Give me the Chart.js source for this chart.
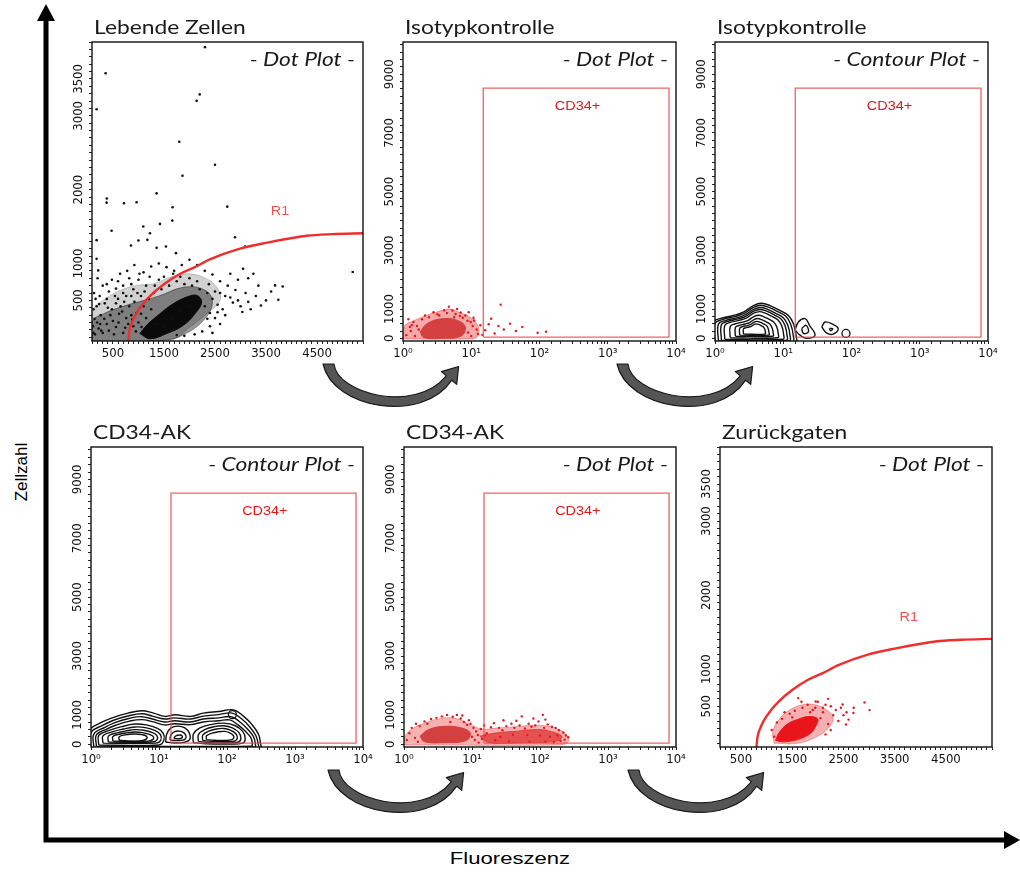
<!DOCTYPE html>
<html>
<head>
<meta charset="utf-8">
<script src="https://cdn.jsdelivr.net/npm/chart.js@4.4.1/dist/chart.umd.min.js"></script>
<style>
  body { margin: 0; width: 1020px; height: 872px; overflow: hidden; position: relative; background: #fff; }
  canvas { position: absolute; }
  svg { position: absolute; left: 0; top: 0; pointer-events: none; }
</style>
</head>
<body>
<svg width="1020" height="872" font-family="Liberation Sans, Arial, sans-serif">
  <defs>
    <path id="bend" d="M0,0 L11,0 C14,30 92,50 123.3,11.8 L118.3,7.6 L135.6,2.5 L133.7,20.4 L128.7,16.2 C100,60 10,45 0,0 Z"
          fill="#555" stroke="#1a1a1a" stroke-width="1.2" stroke-linejoin="round"/>
  </defs>
  <polyline points="46,18 46,840 1006,840" fill="none" stroke="#000" stroke-width="5"/>
  <polygon points="37,21 46,4 55,21" fill="#000"/>
  <polygon points="1004,831 1020,840 1004,849" fill="#000"/>
  <use href="#bend" x="323" y="364"/>
  <use href="#bend" x="617" y="364"/>
  <use href="#bend" x="328" y="770"/>
  <use href="#bend" x="628" y="770"/>
  <text transform="translate(27,472) rotate(-90)" text-anchor="middle" font-size="17">Zellzahl</text>
  <text transform="translate(510,864) scale(1.3,1)" text-anchor="middle" font-size="17">Fluoreszenz</text>
</svg>
<canvas id="live"></canvas>
<canvas id="isoDot"></canvas>
<canvas id="isoContour"></canvas>
<canvas id="akContour"></canvas>
<canvas id="akDot"></canvas>
<canvas id="backGate"></canvas>
<script>
// tick labels
const scatterTicksX = [500, 1500, 2500, 3500, 4500];
const scatterTicksY = [500, 1000, 2000, 3000, 3500];
const countTicksY = [0, 1000, 3000, 5000, 7000, 9000];
const logTicks = [1, 10, 100, 1000, 10000];
const logTickLabels = ['10⁰', '10¹', '10²', '10³', '10⁴'];

const panelTitles = ['Lebende Zellen', 'Isotypkontrolle', 'Isotypkontrolle', 'CD34-AK', 'CD34-AK', 'Zurückgaten'];
const plotKinds = ['- Dot Plot -', '- Dot Plot -', '- Contour Plot -', '- Contour Plot -', '- Dot Plot -', '- Dot Plot -'];

// gates
const r1Gate = [[800,-60],[820,77],[870,194],[950,313],[1094,455],[1250,574],[1500,719],[1800,855],[2075,940],[2400,1055],[2990,1200],[3500,1279],[4297,1375],[4800,1397],[5400,1410]];
const r1Label = [3775, 1650];
const cd34GateX = [15, 7900];
const cd34GateY = [40, 8530];
const cd34Label = [360, 7780];

// Lebende Zellen (FSC / SSC)
const liveCore = [[1029,50],[1160,162],[1422,320],[1683,455],[1944,545],[2141,568],[2239,478],[2108,320],[1879,162],[1552,50],[1225,-20]];
const liveInner = [[100,-60],[105,220],[350,330],[700,420],[1000,480],[1400,560],[1900,680],[2300,640],[2450,480],[2300,250],[1900,40],[1500,-40]];
const liveHalo = [[100,-60],[110,365],[310,500],[637,635],[964,703],[1291,725],[1618,815],[1944,860],[2271,815],[2533,680],[2598,500],[2337,320],[2010,140],[1618,-40]];
const liveDots = [
  [2304,3930],[357,3577],[180,3090],[2141,3203],[2200,3290],[1800,2649],[1863,2189],[2500,2338],[1356,1950],[376,1824],
  [380,1880],[716,1815],[964,1829],[1670,1761],[2741,1770],[474,1443],[180,1316],[1095,1500],[1422,1536],[1664,1581],
  [853,1243],[1000,1311],[1174,1320],[1226,1409],[1356,1212],[1539,1230],[1735,1140],[2892,1356],[3089,1230],[180,1063],
  [212,906],[3050,928],[3252,860],[3677,703],[3827,689],[5199,884],[3741,509],[3036,342],
  [150,40],[220,120],[300,60],[380,180],[140,250],[260,300],[420,90],[500,220],[560,140],[620,320],
  [700,60],[760,260],[820,420],[900,150],[960,330],[180,420],[340,460],[480,380],[600,520],[720,480],
  [860,560],[980,600],[240,560],[420,620],[560,660],[700,700],[860,720],[1000,780],[130,600],[300,700],
  [200,800],[480,780],[640,860],[780,900],[920,980],[1100,880],[1250,960],[1400,1000],[1550,950],[1700,900],
  [1850,980],[2000,1050],[2150,980],[2300,900],[2450,850],[2600,760],[2750,700],[2900,640],[3100,600],[3300,560],
  [3500,500],[2700,560],[2850,470],[3000,420],[3200,380],[2650,380],[2500,260],[2400,150],[2250,80],[2100,40],
  [1900,20],[1750,30],[1100,420],[1200,520],[1300,600],[1450,650],[1600,700],[1750,760],[1900,720],[2050,700],
  [2200,650],[2350,600],[2450,520],[2550,440],[2300,420],[1150,260],[1000,200],[950,80],[1050,320],[1250,380],
  [1350,180],[1500,150],[1650,250],[1800,350],[2000,420],[2400,330],[2500,620],[1400,780],[1150,700],[1050,560],
  [860,300],[800,180],[650,420],[540,560],[380,520],[250,180],[160,520],[110,150],[700,600],[900,650],
  [120,60],[190,200],[270,90],[330,250],[450,300],[520,40],[610,200],[680,350],[740,130],[880,240],
  [1060,140],[120,380],[230,450],[400,400],[560,460],[760,560],[920,480],[1120,620],[1320,700],[1500,820],
  [1680,860],[1820,820],[2000,800],[2150,760],[2380,720],[2600,600],[2800,540],[2950,500],[3150,480],[3400,430],
  [2700,300],[2600,180],[2450,60],[2350,250],[2550,340],[1220,820],[1020,860],[820,800],[600,760],[380,720],
  [3600,620],[3350,700],[3150,800],[2950,780],[2800,860]
];

// Isotypkontrolle, dot plot
const isoCore = [[1.78,221],[2.25,502],[3.7,670],[6.2,614],[8.2,390],[7.1,78],[3.6,0],[2.0,33]];
const isoHalo = [[1.02,-20],[1.05,420],[1.5,620],[2.3,800],[3.5,930],[4.8,1000],[6.5,900],[9,760],[11.5,560],[13,300],[12,40],[8,-20]];
const isoDots = [
  [1.12,110],[1.26,390],[1.42,560],[1.3,250],[1.5,80],[1.6,420],[1.9,650],[2.1,780],[2.8,890],[3.2,820],
  [4.0,960],[4.7,1080],[5.3,950],[5.9,830],[6.8,760],[7.5,700],[8.2,780],[9.2,890],[9.8,560],[10.5,420],
  [11,610],[12,300],[13.6,446],[12.5,150],[10,80],[9,200],[8.8,600],[2.4,720],[1.7,300],[1.35,450],
  [1.2,650],[3.4,780],[4.4,860],[5.6,720],[7,880],[6.2,1000],[10.8,700],[16,279],[19.6,670],[22,167],
  [27,1149],[37,502],[56,390],[94,190],[125,223],[30,300],[45,250],[18,480],[14.5,120],[25,420]
];

// Isotypkontrolle, contour plot
const isoRings = [
  [[0.9,-150],[0.9,520],[1.18,670],[1.86,780],[2.6,893],[3.65,1117],[4.8,1194],[6.4,1117],[9.0,949],[11.9,780],[14.1,502],[15.4,111],[15,-150]],
  [[1.0,-122],[1.0,501],[1.28,641],[1.96,743],[2.67,848],[3.66,1056],[4.72,1128],[6.17,1056],[8.47,900],[11.0,743],[12.85,484],[13.96,121],[13.6,-122]],
  [[1.12,-90],[1.12,480],[1.41,607],[2.07,700],[2.75,797],[3.67,987],[4.63,1052],[5.92,987],[7.9,844],[10.0,700],[11.6,464],[12.5,132],[12.2,-90]],
  [[1.24,-62],[1.24,461],[1.53,578],[2.18,663],[2.82,752],[3.68,926],[4.56,986],[5.70,926],[7.45,795],[9.27,663],[10.57,447],[11.3,142],[11.1,-62]],
  [[1.39,-30],[1.39,439],[1.67,544],[2.31,621],[2.91,700],[3.69,857],[4.48,911],[5.47,857],[6.95,739],[8.45,621],[9.5,426],[10.1,153],[9.9,-30]],
  [[1.67,22],[1.67,404],[1.95,489],[2.53,552],[3.06,617],[3.72,744],[4.35,788],[5.12,744],[6.21,648],[7.29,552],[8.02,394],[8.43,171],[8.32,22]],
  [[1.99,70],[1.99,372],[2.24,439],[2.75,489],[3.21,539],[3.73,640],[4.22,675],[4.81,640],[5.6,565],[6.35,489],[6.85,363],[7.13,187],[7.05,70]],
  [[2.30,110],[2.30,345],[2.52,397],[2.96,436],[3.33,475],[3.75,553],[4.12,580],[4.56,553],[5.14,495],[5.68,436],[6.01,338],[6.19,201],[6.15,110]],
  [[2.61,146],[2.61,320],[2.81,359],[3.16,388],[3.44,417],[3.76,475],[4.04,495],[4.36,475],[4.75,432],[5.12,388],[5.35,316],[5.47,214],[5.43,146]],
  [[14.9,278],[16.7,556],[20.9,670],[24.2,446],[29.2,111],[22.1,0],[17.6,111]],
  [[18.6,335],[21.6,446],[23.4,223],[19.7,167]],
  [[36.7,390],[41,558],[51,502],[64,335],[54,145],[43,190]],
  [[47.5,335],[53,335],[49.5,257]]
];
const isoCircles = [[83,168]];

// CD34-AK, contour plot
const akRings = [
  [[0.9,-150],[0.92,446],[1.37,726],[2.0,893],[3.5,1061],[5.6,1139],[8.3,1061],[12.2,949],[17.2,1005],[29,949],[45,1061],[75,1117],[125,1172],[176,949],[233,670],[292,335],[309,56],[309,-150]],
  [[1.0,-150],[1.0,400],[1.5,650],[2.1,810],[3.6,970],[5.6,1040],[8.0,960],[12,860],[17,900],[29,860],[45,960],[75,1010],[120,1060],[165,860],[215,600],[265,300],[285,50],[285,-150]],
  [[1.1,-100],[1.1,350],[1.6,580],[2.2,730],[3.6,880],[5.6,940],[8.0,860],[12,760],[17,800],[29,760],[45,860],[75,900],[115,940],[155,760],[200,520],[245,260],[260,40],[255,-100]],
  [[1.2,-60],[1.2,320],[1.7,520],[2.3,650],[3.7,790],[5.6,840],[8,770],[12,660],[17,700],[29,670],[45,760],[75,800],[110,830],[145,660],[185,450],[225,220],[235,30],[230,-60]],
  [[1.3,-20],[1.3,300],[1.9,480],[2.8,600],[4.4,690],[6.5,660],[9.5,540],[11.5,380],[11.8,150],[10,-20]],
  [[1.5,40],[1.5,290],[2.1,430],[3.0,520],[4.4,590],[6.3,570],[8.8,470],[10.5,330],[10.6,140],[9,40]],
  [[1.8,80],[1.8,280],[2.4,390],[3.2,450],[4.4,500],[6.0,480],[8.0,400],[9.3,300],[9.4,160],[8,80]],
  [[2.1,110],[2.1,270],[2.7,350],[3.4,390],[4.4,420],[5.7,400],[7.2,340],[8.2,270],[8.2,170],[7,110]],
  [[2.6,140],[2.6,260],[3.2,320],[4.4,350],[5.6,330],[6.5,280],[6.6,190],[5.8,130],[4.4,110],[3.2,120]],
  [[12.5,80],[13,350],[15,560],[19,620],[24,560],[28,380],[28,150],[22,60],[16,50]],
  [[14.5,150],[15,320],[17,430],[20,450],[23,400],[25,280],[24,170],[20,130],[16,130]],
  [[16.5,200],[17.5,280],[20,320],[22,280],[21.5,210],[19,190]],
  [[32,60],[32,350],[40,560],[60,680],[90,720],[130,640],[170,440],[185,200],[170,40],[100,10],[50,20]],
  [[38,100],[38,330],[47,500],[65,600],[90,630],[120,560],[150,400],[160,210],[148,80],[100,50],[55,60]],
  [[44,130],[44,310],[53,440],[70,520],[90,540],[112,480],[135,360],[142,220],[132,120],[100,90],[60,100]],
  [[50,160],[50,290],[60,380],[75,430],[92,440],[108,400],[122,320],[126,230],[118,160],[95,130],[65,140]]
];
const akCircles = [[120,1010]];

// CD34-AK, dot plot
const akCoreLeft = [[1.72,279],[2.3,502],[4.0,614],[7.0,558],[9.4,391],[8.3,134],[3.8,56],[2.0,89]];
const akCoreRight = [[13,279],[23,391],[45,446],[90,502],[140,446],[210,279],[178,112],[51,56],[18,56]];
const akHalo = [[1.02,-20],[1.05,300],[1.4,560],[2.2,760],[3.5,880],[5,900],[7,820],[10,650],[14,520],[25,560],[45,600],[80,650],[130,620],[200,480],[250,300],[260,80],[200,-20]];
const akDots = [
  [1.1,150],[1.2,380],[1.3,560],[1.5,700],[1.45,220],[1.7,620],[2.0,780],[2.5,860],[3.0,900],[3.6,950],
  [4.3,1000],[5.2,940],[6.0,1000],[6.8,880],[7.6,760],[8.5,660],[9.5,700],[10.5,560],[11.5,440],[12.2,320],
  [11,150],[10,260],[13.5,520],[15,640],[16.5,380],[19,580],[21,720],[25,560],[28,480],[32,620],
  [38,700],[42,560],[50,640],[54,950],[60,540],[68,700],[75,600],[85,640],[95,780],[110,1000],
  [115,560],[130,680],[150,600],[170,560],[190,480],[220,400],[240,300],[260,240],[230,160],[200,120],
  [160,70],[120,90],[70,90],[35,90],[22,140],[14,180],[12.5,60],[15.5,300],[26,250],[40,330],
  [65,320],[100,300],[140,260],[180,300],[9,820],[2.2,700],[1.6,90],[4.8,760],[7.2,980],[29,820],
  [45,800],[80,880],[120,840]
];

// Zurückgaten (FSC / SSC of CD34+)
const backCore = [[1175,40],[1250,150],[1406,260],[1600,320],[1800,360],[1997,330],[1950,220],[1866,140],[1650,60],[1471,30],[1300,20]];
const backHalo = [[1150,0],[1120,150],[1250,330],[1450,450],[1700,520],[1950,520],[2150,460],[2300,350],[2200,200],[1950,80],[1600,0]];
const backDots = [
  [1615,610],[1958,564],[2254,501],[2484,523],[2695,410],[2550,253],[2911,551],[3010,448],[2000,560],[2150,520],
  [2450,480],[2560,420],[2300,380],[2400,300],[2200,260],[2100,420],[1800,520],[1700,480],[1550,440],[1450,400],
  [1300,330],[1200,280],[1100,180],[1150,90],[1350,420],[1900,450],[2050,340],[2250,180],[2150,120],[1750,200],
  [1400,120],[1550,180],[1250,60],[2350,450],[2600,320],[1680,560],[1950,480],[2500,380],[1850,420],[1500,350],
  [2100,480],[2700,480],[2200,600]
];

const tickFont = { family: '"Liberation Sans Narrow", "DejaVu Sans Condensed", "Liberation Sans", sans-serif', size: 13 };
const red = 'rgb(232,22,26)';

const pts = a => a.map(([x, y]) => ({ x, y }));

function dots(data, color, r) {
  return { data: pts(data), showLine: false, pointRadius: r, pointBackgroundColor: color, pointBorderWidth: 0 };
}
function blob(data, color) {
  return { data: pts([...data, data[0]]), showLine: true, fill: 'shape', backgroundColor: color,
           borderColor: color, borderWidth: 1, pointRadius: 0, tension: 0.4, clip: 0 };
}
function ring(data) {
  return { data: pts([...data, data[0]]), showLine: true, fill: false, borderColor: '#111',
           borderWidth: 1.4, pointRadius: 0, tension: 0.4, clip: 0 };
}
function circles(data) {
  return { data: pts(data), showLine: false, pointRadius: 4, pointBackgroundColor: 'rgba(0,0,0,0)',
           pointBorderColor: '#111', pointBorderWidth: 1.3 };
}
function r1Line() {
  return { data: pts(r1Gate), showLine: true, fill: false, borderColor: 'rgb(240,45,45)', borderWidth: 2.4,
           pointRadius: 0, cubicInterpolationMode: 'monotone', clip: 0 };
}
function cd34Box() {
  const [x0, x1] = cd34GateX, [y0, y1] = cd34GateY;
  return { data: pts([[x0, y0], [x0, y1], [x1, y1], [x1, y0], [x0, y0]]), showLine: true, fill: false,
           borderColor: 'rgba(238,70,70,0.85)', borderWidth: 1.3, pointRadius: 0, tension: 0, clip: 0 };
}

function axis(type, min, max, labels, horizontal, step, names) {
  return {
    type, min, max,
    afterFit(s) { if (horizontal) s.height = 20; else s.width = 20; },
    afterBuildTicks(s) {
      if (!step) return;
      const t = [];
      for (let v = Math.ceil(min / step) * step; v <= max; v += step) t.push({ value: v });
      s.ticks = t;
    },
    grid: { drawOnChartArea: false, drawTicks: true, tickLength: 3, tickColor: '#222' },
    border: { display: false },
    ticks: {
      autoSkip: false,
      padding: horizontal ? 2 : -5,
      minRotation: horizontal ? 0 : 90, maxRotation: horizontal ? 0 : 90,
      crossAlign: horizontal ? 'near' : 'center',
      color: '#111', font: tickFont,
      callback: v => {
        const i = labels.indexOf(v);
        return i < 0 ? '' : (names ? names[i] : String(v));
      }
    }
  };
}
const fscAxis = () => axis('linear', 90, 5400, scatterTicksX, true, 100);
const sscAxis = () => axis('linear', -50, 4000, scatterTicksY, false, 100);
const flAxis = () => axis('logarithmic', 1, 10000, logTicks, true, 0, logTickLabels);
const countAxis = () => axis('linear', -90, 10100, countTicksY, false, 250);

function wideText(ctx, text, x, y, font, color, align) {
  ctx.save();
  ctx.translate(x, y);
  ctx.scale(1.2, 1);
  ctx.font = font;
  ctx.fillStyle = color;
  ctx.textAlign = align;
  ctx.textBaseline = 'alphabetic';
  ctx.fillText(text, 0, 0);
  ctx.restore();
}

function frame(title, kind, tag) {
  return {
    id: 'frame',
    afterDraw(chart) {
      const { ctx, chartArea: a, scales } = chart;
      ctx.save();
      ctx.strokeStyle = '#111';
      ctx.lineWidth = 1.4;
      ctx.strokeRect(a.left, a.top, a.right - a.left, a.bottom - a.top);
      wideText(ctx, title, a.left + 2, a.top - 8, '19px Lato', '#1a1a1a', 'left');
      wideText(ctx, kind, a.right - 8, a.top + 24, 'italic 19px Lato', '#1a1a1a', 'right');
      if (tag) {
        wideText(ctx, tag.text, scales.x.getPixelForValue(tag.at[0]), scales.y.getPixelForValue(tag.at[1]),
                 tag.font, tag.color, 'center');
      }
      ctx.restore();
    }
  };
}

function panel(id, box, xAxis, yAxis, datasets, n, tag) {
  const cv = document.getElementById(id);
  cv.width = box[2] - box[0] + 50;
  cv.height = box[3] - box[1] + 65;
  cv.style.left = (box[0] - 30) + 'px';
  cv.style.top = (box[1] - 40) + 'px';
  new Chart(cv, {
    type: 'line',
    data: { datasets },
    options: {
      responsive: false, animation: false, devicePixelRatio: 1, events: [],
      layout: { padding: { left: 10, top: 40, right: 20, bottom: 5 } },
      scales: { x: xAxis, y: yAxis },
      plugins: { legend: { display: false }, tooltip: { enabled: false } }
    },
    plugins: [frame(panelTitles[n], plotKinds[n], tag)]
  });
}

const r1Tag = { text: 'R1', at: r1Label, font: '12px "Liberation Sans", Arial, sans-serif', color: 'rgb(240,80,80)' };
const cd34Tag = { text: 'CD34+', at: cd34Label, font: '12px "Liberation Sans", Arial, sans-serif', color: 'rgb(235,20,20)' };

panel('live', [92, 42, 363, 341], fscAxis(), sscAxis(), [
  r1Line(),
  dots(liveDots, '#111', 1.3),
  blob(liveCore, '#0a0a0a'),
  blob(liveInner, 'rgba(0,0,0,0.4)'),
  blob(liveHalo, 'rgba(0,0,0,0.18)')
], 0, r1Tag);

panel('isoDot', [403, 42, 676, 341], flAxis(), countAxis(), [
  cd34Box(),
  dots(isoDots, red, 1.2),
  blob(isoCore, 'rgb(212,64,64)'),
  blob(isoHalo, 'rgba(230,30,30,0.38)')
], 1, cd34Tag);

panel('isoContour', [715, 42, 988, 341], flAxis(), countAxis(), [
  cd34Box(),
  circles(isoCircles),
  ...isoRings.map(ring)
], 2, cd34Tag);

panel('akContour', [91, 447, 363, 747], flAxis(), countAxis(), [
  cd34Box(),
  circles(akCircles),
  ...akRings.map(ring)
], 3, cd34Tag);

panel('akDot', [404, 447, 676, 747], flAxis(), countAxis(), [
  cd34Box(),
  dots(akDots, red, 1.2),
  blob(akCoreLeft, 'rgb(212,64,64)'),
  blob(akCoreRight, 'rgba(222,40,40,0.7)'),
  blob(akHalo, 'rgba(230,30,30,0.34)')
], 4, cd34Tag);

panel('backGate', [720, 447, 992, 747], fscAxis(), sscAxis(), [
  r1Line(),
  dots(backDots, red, 1.2),
  blob(backCore, red),
  blob(backHalo, 'rgba(232,22,26,0.34)')
], 5, r1Tag);
</script>
</body>
</html>
